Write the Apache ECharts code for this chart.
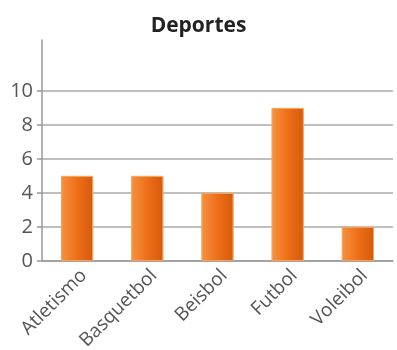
<!DOCTYPE html>
<html>
<head>
<meta charset="utf-8">
<script src="https://cdn.jsdelivr.net/npm/echarts@6/dist/echarts.min.js"></script>
<style>
  html, body { margin: 0; padding: 0; background: #fff; }
  #chart { width: 397px; height: 350px; }
</style>
</head>
<body>
<div id="chart"></div>
<script>
// datos del gráfico
const deportes = ['Atletismo', 'Basquetbol', 'Beisbol', 'Futbol', 'Voleibol'];
const valores = [5, 5, 4, 9, 2];
const marcasY = [0, 2, 4, 6, 8, 10];

let myChart = echarts.init(document.getElementById('chart'));
let option = {
  backgroundColor: '#fff',
  title: {
    text: 'Deportes',
    left: 'center',
    top: 11,
    textStyle: { fontFamily: 'Open Sans', fontSize: 21, fontWeight: 'bold', color: '#222' },
  },
  grid: { left: 42, right: 4, top: 40, bottom: 89, outerBoundsMode: 'none' },
  xAxis: {
    type: 'category',
    data: deportes,
    axisLine: { lineStyle: { color: '#999', width: 1.5 } },
    axisTick: { length: 7, lineStyle: { color: '#999', width: 1.5 } },
    axisLabel: {
      rotate: 45,
      margin: 5,
      verticalAlign: 'top',
      fontFamily: 'Open Sans',
      fontSize: 19,
      color: '#555',
    },
  },
  yAxis: {
    type: 'value',
    min: 0,
    max: 13,
    axisLine: { show: true, lineStyle: { color: '#999', width: 1.5 } },
    axisTick: { show: true, length: 5, customValues: marcasY, lineStyle: { color: '#999', width: 1.5 } },
    axisLabel: {
      customValues: marcasY,
      margin: 9,
      fontFamily: 'Open Sans',
      fontSize: 20,
      color: '#555',
    },
    splitLine: { show: true, lineStyle: { color: '#aaa', width: 1.5 } },
  },
  series: [
    {
      type: 'bar',
      data: valores,
      barWidth: 32,
      itemStyle: {
        color: new echarts.graphic.LinearGradient(0, 0, 1, 0, [
          { offset: 0, color: '#f59140' },
          { offset: 0.5, color: '#ef6f18' },
          { offset: 1, color: '#d45a0c' },
        ]),
        borderColor: '#f3a560',
        borderWidth: 0.8,
      },
    },
  ],
};
myChart.setOption(option);
</script>
</body>
</html>
